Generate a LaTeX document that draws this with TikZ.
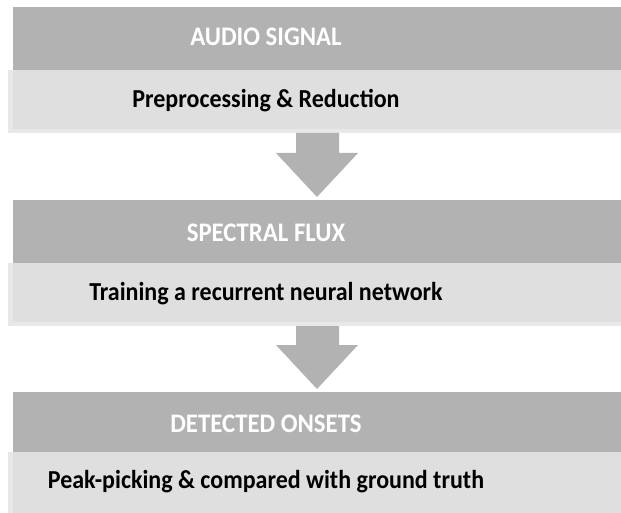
\documentclass[tikz,border=0pt]{standalone}
\usepackage{fontspec}
\setmainfont{Carlito}
\definecolor{hdr}{HTML}{B2B2B2}
\definecolor{sub}{HTML}{DFDFDF}
\definecolor{subedge}{HTML}{E8E8E8}
\newcommand{\tallbox}[1]{\scalebox{1}[1.08]{#1}}
\begin{document}
\begin{tikzpicture}[x=1pt,y=-1pt,
  hdrbox/.style={fill=hdr,draw=none,anchor=north west,inner sep=0pt},
  subbox/.style={fill=sub,draw=none,anchor=north west,inner sep=0pt},
  hdrtext/.style={text=white,font=\fontsize{24.8}{28}\selectfont\bfseries,anchor=base,inner sep=0pt},
  subtext/.style={text=black,font=\fontsize{24}{28}\selectfont\bfseries,anchor=base,inner sep=0pt},
  blockarrow/.style={fill=hdr,draw=none}]
\useasboundingbox (0,0) rectangle (621,513);
\fill[white] (0,0) rectangle (621,513);
% block 1
\fill[subedge] (8,70) rectangle (621,133);
\node[hdrbox,minimum width=608pt,minimum height=63pt] (h1) at (13,7) {};
\node[subbox,minimum width=608pt,minimum height=59pt] (s1) at (13,70) {};
\node[hdrtext] (t1) at (266,46) {\tallbox{AUDIO SIGNAL}};
\node[subtext] (u1) at (266,108) {\tallbox{Preprocessing \& Reduction}};
% block 2
\fill[subedge] (8,263) rectangle (621,326);
\node[hdrbox,minimum width=608pt,minimum height=63pt] (h2) at (13,200) {};
\node[subbox,minimum width=608pt,minimum height=59pt] (s2) at (13,263) {};
\node[hdrtext] (t2) at (266,241) {\tallbox{SPECTRAL FLUX}};
\node[subtext] (u2) at (266,300) {\tallbox{Training a recurrent neural network}};
% block 3
\fill[subedge] (8,452) rectangle (621,513);
\node[hdrbox,minimum width=608pt,minimum height=60pt] (h3) at (13,392) {};
\node[subbox,minimum width=608pt,minimum height=61pt] (s3) at (13,452) {};
\node[hdrtext] (t3) at (266,432) {\tallbox{DETECTED ONSETS}};
\node[subtext] (u3) at (266,488) {\tallbox{Peak-picking \& compared with ground truth}};
% arrows
\fill[blockarrow] (296,133) -- (339,133) -- (339,153) -- (358,153) -- (317,197) -- (276,153) -- (296,153) -- cycle;
\fill[blockarrow] (296,326) -- (339,326) -- (339,345) -- (358,345) -- (317,389) -- (276,345) -- (296,345) -- cycle;
\end{tikzpicture}
\end{document}
